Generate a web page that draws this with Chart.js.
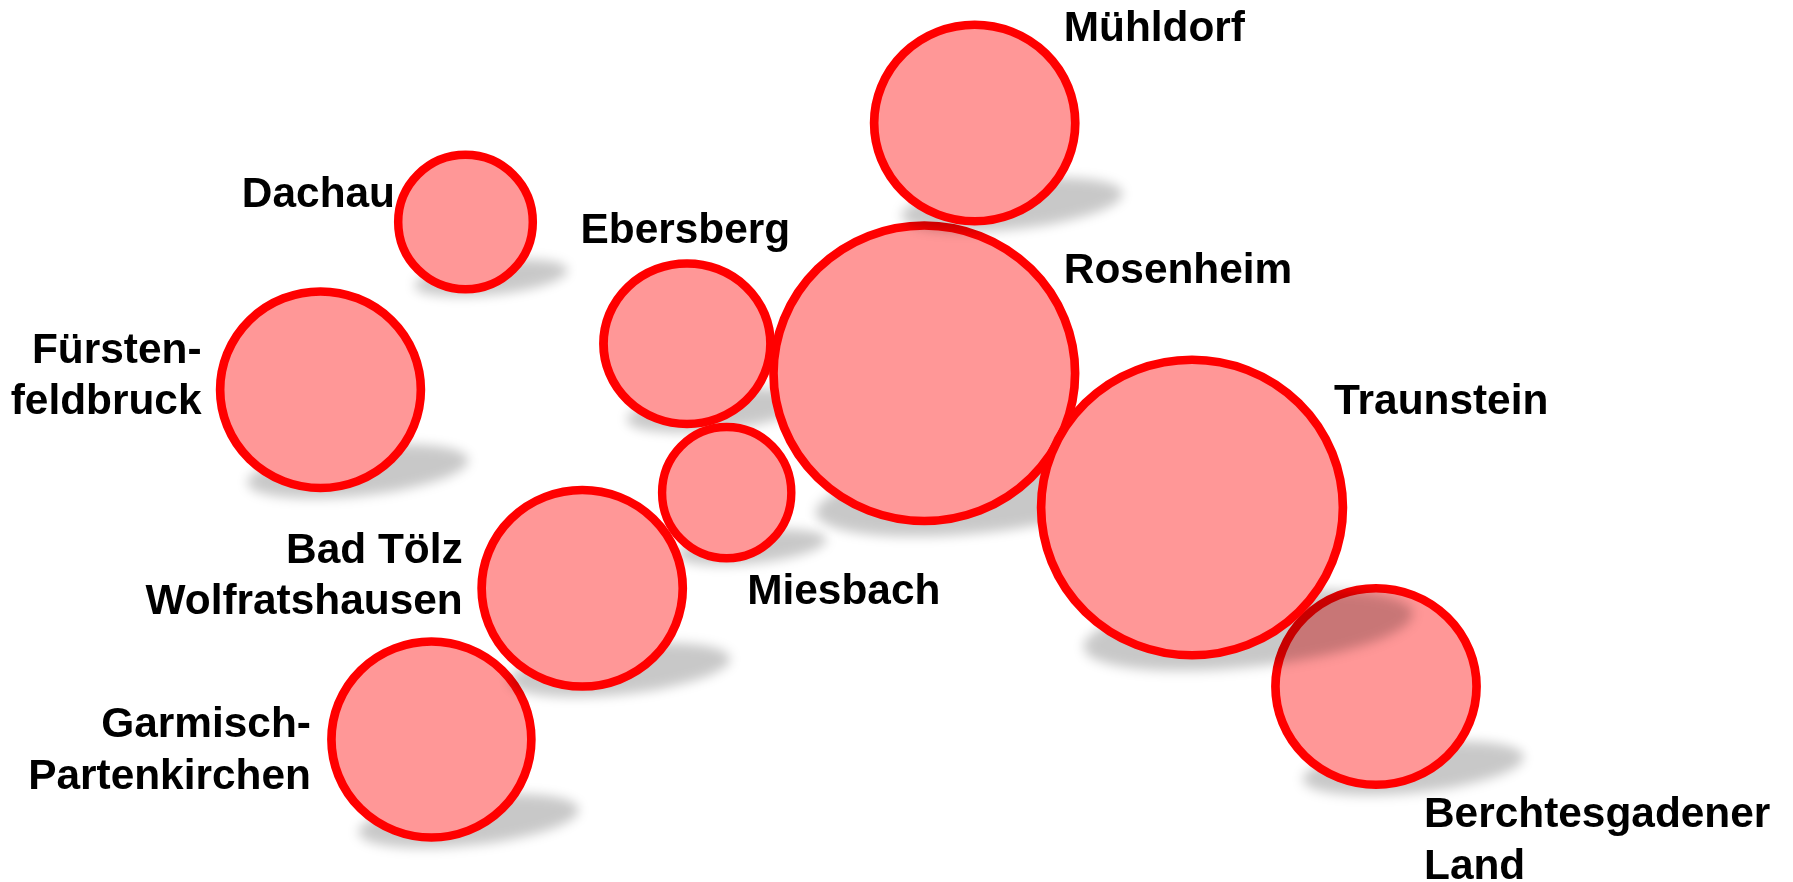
<!DOCTYPE html>
<html>
<head>
<meta charset="utf-8">
<title>Landkreise</title>
<script src="https://cdn.jsdelivr.net/npm/chart.js@4"></script>
<style>
    html, body { margin: 0; padding: 0; background: #fff; overflow: hidden; }
    canvas { display: block; }
</style>
</head>
<body>
<canvas id="bubbleChart" width="1793" height="882"></canvas>
<script>
// Listed back to front, later ones lie over the earlier ones and their shadows
const counties = ['Dachau', 'Fürstenfeldbruck', 'Garmisch-Partenkirchen', 'Berchtesgadener Land', 'Ebersberg', 'Miesbach', 'Bad Tölz-Wolfratshausen', 'Rosenheim', 'Mühldorf', 'Traunstein'];
const xValues = [465.5, 320.5, 431.4, 1376, 687, 726.7, 582.2, 924.3, 974.7, 1192];
const yValues = [222, 389.7, 739.5, 686.5, 343.7, 492.7, 588.3, 373.3, 123, 507.5];
const sizes = [67.3, 98.3, 98, 98.3, 80.3, 65.6, 98.3, 147.7, 98.3, 147.8];
const labelLines = [
    ['Dachau'],
    ['Fürsten-', 'feldbruck'],
    ['Garmisch-', 'Partenkirchen'],
    ['Berchtesgadener', 'Land'],
    ['Ebersberg'],
    ['Miesbach'],
    ['Bad Tölz', 'Wolfratshausen'],
    ['Rosenheim'],
    ['Mühldorf'],
    ['Traunstein']
];

// The bubbles in the picture are a little wider than tall
const widthRatios = [1, 1.021, 1.02, 1.023, 1.04, 0.985, 1.023, 1.021, 1.023, 1.021];

// Where each label sits relative to its bubble: [dx, dy of first baseline, align]
const labelOffsets = [
    [-70.5, -15, 'right'],
    [-119, -27, 'right'],
    [-120.5, -2.5, 'right'],
    [48, 140.5, 'left'],
    [-106.5, -100.5, 'left'],
    [20.5, 111, 'left'],
    [-119.5, -25.5, 'right'],
    [139.5, -90.5, 'left'],
    [89, -82.3, 'left'],
    [142, -93.5, 'left']
];

// Blurred, flattened ellipse used as point image for the shadow
function makeShadow(r) {
    const a = 1.1 * r + 3, b = 0.25 * r, blur = 6;
    const c = document.createElement('canvas');
    c.width = Math.ceil(2 * (a + 30));
    c.height = Math.ceil(2 * (b + 60));
    const g = c.getContext('2d');
    g.filter = `blur(${blur}px)`;
    g.fillStyle = 'rgba(0, 0, 0, 0.215)';
    g.beginPath();
    g.ellipse(c.width / 2, c.height / 2, a, b, -6 * Math.PI / 180, 0, Math.PI * 2);
    g.fill();
    return c;
}

const widenBubbles = {
    id: 'widenBubbles',
    beforeDatasetDraw(chart, args) {
        const ds = chart.data.datasets[args.index];
        if (!ds.widthRatio) return;
        const cx = chart.getDatasetMeta(args.index).data[0].x;
        chart.ctx.save();
        chart.ctx.translate(cx, 0);
        chart.ctx.scale(ds.widthRatio, 1);
        chart.ctx.translate(-cx, 0);
    },
    afterDatasetDraw(chart, args) {
        if (chart.data.datasets[args.index].widthRatio) chart.ctx.restore();
    }
};

const countyLabels = {
    id: 'countyLabels',
    afterDatasetsDraw(chart) {
        const ctx = chart.ctx;
        const xScale = chart.scales.x;
        const yScale = chart.scales.y;
        ctx.save();
        ctx.fillStyle = '#000';
        ctx.font = 'bold 42.4px "Liberation Sans", Arial, sans-serif';
        ctx.textBaseline = 'alphabetic';
        labelLines.forEach((lines, i) => {
            const [dx, dy, align] = labelOffsets[i];
            ctx.textAlign = align;
            lines.forEach((line, n) => {
                ctx.fillText(line, xScale.getPixelForValue(xValues[i]) + dx, yScale.getPixelForValue(yValues[i]) + dy + n * 51.5);
            });
        });
        ctx.restore();
    }
};

// Chart.js draws the first dataset on top, so walk the counties from the front
const datasets = [];
for (let i = counties.length - 1; i >= 0; i--) {
    datasets.push({
        label: counties[i],
        data: [{ x: xValues[i], y: yValues[i], r: sizes[i] }],
        backgroundColor: '#ff9797',
        borderColor: '#ff0000',
        borderWidth: 8.5,
        widthRatio: widthRatios[i],
        clip: false
    });
    datasets.push({
        label: counties[i] + ' Schatten',
        data: [{ x: xValues[i] + 0.38 * sizes[i], y: yValues[i] + 0.83 * sizes[i], r: 1 }],
        pointStyle: makeShadow(sizes[i]),
        borderWidth: 0,
        clip: false
    });
}

new Chart(document.getElementById('bubbleChart').getContext('2d'), {
    type: 'bubble',
    data: { datasets: datasets },
    options: {
        responsive: false,
        animation: false,
        events: [],
        layout: { padding: 0, autoPadding: false },
        plugins: {
            legend: { display: false },
            tooltip: { enabled: false }
        },
        scales: {
            x: { type: 'linear', display: false, min: 0, max: 1793 },
            y: { type: 'linear', display: false, min: 0, max: 882, reverse: true }
        }
    },
    plugins: [widenBubbles, countyLabels]
});
</script>
</body>
</html>
